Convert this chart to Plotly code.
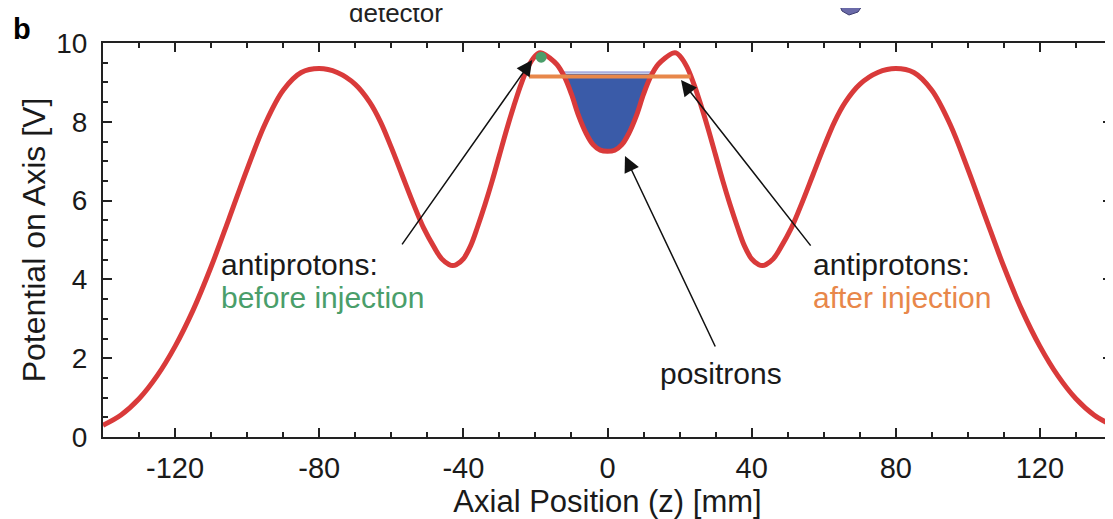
import numpy as np
import plotly.graph_objects as go

# ---- data ----
z_mm = [-140, -135, -130, -125, -120, -115, -110, -105, -100, -95, -90, -85, -80,
        -75, -70, -66, -63, -60, -57, -54, -51, -48, -46, -44, -43, -42, -40, -38,
        -36, -34, -32, -30, -28, -26, -24, -22, -20, -19, -18, -16, -14, -12, -10,
        -8, -6, -4, -2, 0,
        2, 4, 6, 8, 10, 12, 14, 16, 18, 19, 20, 22, 24, 26, 28, 30, 32, 34, 36,
        38, 40, 42, 43, 44, 46, 48, 51, 54, 57, 60, 63, 66, 70, 75, 80, 85, 90,
        95, 100, 105, 110, 115, 120, 125, 130, 135, 140]
potential_V = [0.30, 0.56, 0.97, 1.55, 2.30, 3.22, 4.32, 5.55, 6.80, 7.95, 8.80, 9.25, 9.35,
               9.25, 8.95, 8.50, 8.00, 7.35, 6.65, 5.95, 5.30, 4.80, 4.52, 4.38, 4.35, 4.37, 4.52, 4.85,
               5.35, 5.90, 6.50, 7.15, 7.80, 8.40, 8.95, 9.40, 9.68, 9.75, 9.74, 9.62, 9.45, 9.15, 8.70,
               8.15, 7.72, 7.42, 7.28, 7.25,
               7.28, 7.42, 7.72, 8.15, 8.70, 9.15, 9.45, 9.62, 9.74, 9.75, 9.68, 9.40, 8.95, 8.40, 7.80, 7.15, 6.50, 5.90, 5.35,
               4.85, 4.52, 4.37, 4.35, 4.38, 4.52, 4.80, 5.30, 5.95, 6.65, 7.35, 8.00, 8.50, 8.95, 9.25, 9.35, 9.25, 8.80,
               7.95, 6.80, 5.55, 4.32, 3.22, 2.30, 1.55, 0.97, 0.56, 0.30]

positron_level_V = 9.22
after_z = [-21.8, 23.1]
after_V = [9.15, 9.15]
before_z = [-18.4]
before_V = [9.64]

x_ticks = [-120, -80, -40, 0, 40, 80, 120]
y_ticks = [0, 2, 4, 6, 8, 10]

RED = "#d93a3a"
BLUE = "#3a5ba8"
GREEN = "#4a9e6a"
ORANGE = "#e8874a"
FONT = "Liberation Sans, Arial, sans-serif"
TXT = "#1a1a1a"

# positron well polygon from the curve
z = np.array(z_mm, dtype=float)
v = np.array(potential_V, dtype=float)
zf = np.linspace(-19, 19, 400)
vf = np.interp(zf, z, v)
mask = vf <= positron_level_V
wz = zf[mask]
wv = vf[mask]
poly_x = [wz[0]] + list(wz) + [wz[-1]]
poly_y = [positron_level_V] + list(wv) + [positron_level_V]

fig = go.Figure()
fig.add_trace(go.Scatter(x=poly_x, y=poly_y, fill="toself", fillcolor=BLUE,
                         line=dict(color=BLUE, width=0), mode="lines", hoverinfo="skip"))
fig.add_trace(go.Scatter(x=[wz[0], wz[-1]], y=[positron_level_V + 0.04] * 2, mode="lines",
                         line=dict(color="#a9aee0", width=2), hoverinfo="skip"))
fig.add_trace(go.Scatter(x=z_mm, y=potential_V, mode="lines",
                         line=dict(color=RED, width=5, shape="spline", smoothing=1.0)))
fig.add_trace(go.Scatter(x=after_z, y=after_V, mode="lines",
                         line=dict(color=ORANGE, width=4)))
fig.add_trace(go.Scatter(x=before_z, y=before_V, mode="markers",
                         marker=dict(color=GREEN, size=11, symbol="circle")))

def arrow(tip, tail):
    fig.add_annotation(x=tip[0], y=tip[1], ax=tail[0], ay=tail[1], xref="x", yref="y",
                       axref="x", ayref="y", text="", showarrow=True, arrowhead=2,
                       arrowsize=2.1, arrowwidth=1.5, arrowcolor="#111")

arrow((-20.9, 9.57), (-57.3, 4.85))
arrow((20.4, 9.06), (56.7, 4.82))
arrow((4.85, 7.13), (30.1, 2.26))

def label(x, y, text, color=TXT, anchor="left"):
    fig.add_annotation(x=x, y=y, xref="x", yref="y", text=text, showarrow=False,
                       xanchor=anchor, yanchor="middle",
                       font=dict(family=FONT, size=30, color=color))

label(-107.7, 4.37, "antiprotons:")
label(-107.7, 3.55, "before injection", GREEN)
label(56.4, 4.37, "antiprotons:")
label(56.4, 3.55, "after injection", ORANGE)
label(31.5, 1.6, "positrons", anchor="center")

# page body adds an 8px offset; figure is sized/margined to compensate
W, H = 1105, 511
L, T = 95, 35
PW, PH = 1009, 394

def px(xw):
    return (xw - 8 - L) / PW

def py(yw):
    return (T + PH - (yw - 8)) / PH

fig.add_annotation(x=px(22), y=py(29), xref="paper", yref="paper", text="<b>b</b>",
                   showarrow=False, xanchor="center", yanchor="middle",
                   font=dict(family=FONT, size=29, color="#000"))
fig.add_annotation(x=px(396), y=py(30), xref="paper", yref="paper", text="detector",
                   showarrow=False, xanchor="center", yanchor="bottom",
                   font=dict(family=FONT, size=26, color="#222"))
fig.add_shape(type="path", xref="paper", yref="paper",
              path=f"M {px(840)} {py(6)} L {px(862)} {py(6)} L {px(858)} {py(12)} L {px(849)} {py(15)} L {px(842)} {py(11)} Z",
              fillcolor="#6a6aa8", line=dict(color="#3c3c70", width=1))

axis_common = dict(showline=True, linecolor="#222", linewidth=2, mirror="ticks",
                   ticks="inside", ticklen=9, tickwidth=2, tickcolor="#222",
                   showgrid=False, zeroline=False, automargin=False)

fig.update_xaxes(range=[-140, 140], tickmode="array", tickvals=x_ticks,
                 ticktext=[str(t) for t in x_ticks],
                 tickfont=dict(family=FONT, size=29, color=TXT),
                 minor=dict(dtick=10, tick0=0, ticks="inside", ticklen=5, tickwidth=1.5,
                            tickcolor="#222", showgrid=False),
                 title=dict(text="Axial Position (z) [mm]", standoff=2,
                            font=dict(family=FONT, size=31, color=TXT)),
                 ticklabelstandoff=4, **axis_common)
fig.update_yaxes(range=[0, 10], tickmode="array", tickvals=y_ticks,
                 tickfont=dict(family=FONT, size=28, color=TXT),
                 minor=dict(dtick=0.5, tick0=0, ticks="inside", ticklen=5, tickwidth=1.5,
                            tickcolor="#222", showgrid=False),
                 title=dict(text="Potential on Axis [V]", standoff=1,
                            font=dict(family=FONT, size=32, color=TXT)),
                 ticklabelstandoff=8, **axis_common)

fig.update_layout(width=W, height=H, showlegend=False,
                  plot_bgcolor="white", paper_bgcolor="white",
                  margin=dict(l=L, r=W - L - PW, t=T, b=H - T - PH))

fig.write_html("out.html")
